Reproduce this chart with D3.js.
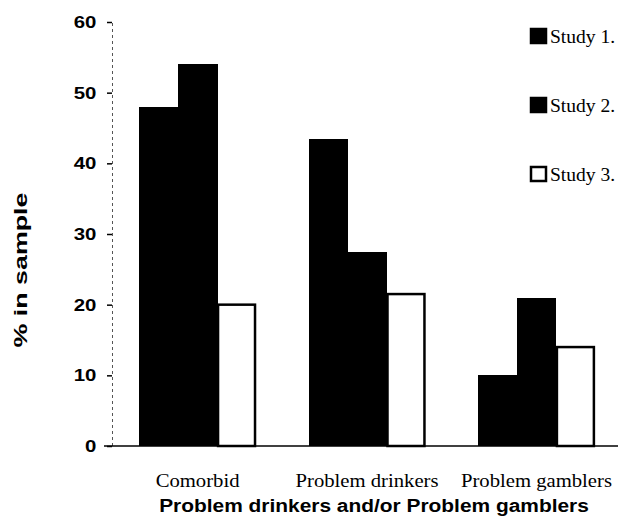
<!DOCTYPE html>
<html>
<head>
<meta charset="utf-8">
<script src="https://cdn.jsdelivr.net/npm/d3@7"></script>
<style>
  body { margin: 0; background: #fff; }
  svg { display: block; }
</style>
</head>
<body>
<div id="chart"></div>
<script>
// data
const categories = ['Comorbid', 'Problem drinkers', 'Problem gamblers'];
const studies = ['Study 1.', 'Study 2.', 'Study 3.'];
const study1 = [48, 43.5, 10];
const study2 = [54, 27.5, 21];
const study3 = [20, 21.5, 14];
const yTicks = [0, 10, 20, 30, 40, 50, 60];

(function() {
    const width = 618;
    const height = 521;
    const seriesValues = [study1, study2, study3];
    const fills = ['#000', '#000', '#fff'];
    const sans = 'Liberation Sans, Arial, sans-serif';
    const serif = 'Liberation Serif, Times New Roman, serif';

    const svg = d3.select('#chart')
        .append('svg')
        .attr('width', width)
        .attr('height', height);

    const y = d3.scaleLinear()
        .domain([0, 60])
        .range([446, 22]);

    const x = d3.scaleBand()
        .domain(categories)
        .range([112, 622])
        .paddingInner(0.31)
        .paddingOuter(0.16);

    const xInner = d3.scaleBand()
        .domain(studies)
        .range([0, x.bandwidth()]);

    // Y axis (dotted spine, short ticks)
    const yAxis = svg.append('g')
        .attr('transform', 'translate(112,0)')
        .call(d3.axisLeft(y).tickValues(yTicks).tickSize(5).tickPadding(12));
    yAxis.select('.domain')
        .attr('stroke', '#555')
        .attr('stroke-width', 1)
        .attr('stroke-dasharray', '3,3');
    yAxis.selectAll('.tick line').attr('stroke', '#000').attr('stroke-width', 1.5);
    yAxis.selectAll('.tick text')
        .attr('font-family', sans)
        .attr('font-weight', 'bold')
        .attr('font-size', '17px')
        .attr('fill', '#000')
        .attr('transform', 'scale(1.2,1)')
        .attr('x', -13);

    // bars
    const groups = svg.selectAll('.grp')
        .data(categories)
        .enter()
        .append('g')
        .attr('transform', d => `translate(${x(d)},0)`);

    groups.selectAll('rect')
        .data((c, ci) => studies.map((s, si) => ({study: s, si: si, value: seriesValues[si][ci]})))
        .enter()
        .append('rect')
        .attr('x', d => xInner(d.study) + (d.si === 2 ? 1 : 0))
        .attr('y', d => y(d.value))
        .attr('width', d => xInner.bandwidth() - (d.si === 2 ? 2 : 0) + (d.si < 2 ? 0.5 : 0))
        .attr('height', d => y(0) - y(d.value))
        .attr('fill', d => fills[d.si])
        .attr('stroke', '#000')
        .attr('stroke-width', d => d.si === 2 ? 2.5 : 0)
        .attr('shape-rendering', d => d.si < 2 ? 'crispEdges' : null);

    // baseline
    svg.append('line')
        .attr('x1', 104).attr('x2', 618)
        .attr('y1', y(0)).attr('y2', y(0))
        .attr('stroke', '#000')
        .attr('stroke-width', 1.5);

    // category labels
    svg.selectAll('.cat')
        .data(categories)
        .enter()
        .append('text')
        .attr('transform', d => `translate(${x(d) + x.bandwidth() / 2},487) scale(1.15,1)`)
        .attr('text-anchor', 'middle')
        .attr('font-family', serif)
        .attr('font-size', '18px')
        .attr('fill', '#000')
        .text(d => d);

    // axis titles
    svg.append('text')
        .attr('transform', 'translate(374,512) scale(1.1,1)')
        .attr('text-anchor', 'middle')
        .attr('font-family', sans)
        .attr('font-weight', 'bold')
        .attr('font-size', '19px')
        .text('Problem drinkers and/or Problem gamblers');

    svg.append('text')
        .attr('transform', 'rotate(-90)')
        .attr('x', -270)
        .attr('y', 27)
        .attr('text-anchor', 'middle')
        .attr('font-family', sans)
        .attr('font-weight', 'bold')
        .attr('font-size', '18px')
        .attr('textLength', 155)
        .attr('lengthAdjust', 'spacingAndGlyphs')
        .text('% in sample');

    // legend
    const legend = svg.append('g')
        .attr('transform', 'translate(530,28)');
    const item = legend.selectAll('.leg')
        .data(studies)
        .enter()
        .append('g')
        .attr('transform', (d, i) => `translate(0,${i * 69})`);
    item.append('rect')
        .attr('x', 1).attr('y', 1)
        .attr('width', 15).attr('height', 14)
        .attr('fill', (d, i) => fills[i])
        .attr('stroke', '#000')
        .attr('stroke-width', 2.5);
    item.append('text')
        .attr('transform', 'translate(20,15) scale(1.03,1)')
        .attr('font-family', serif)
        .attr('font-size', '19px')
        .text(d => d);
})();
</script>
</body>
</html>
